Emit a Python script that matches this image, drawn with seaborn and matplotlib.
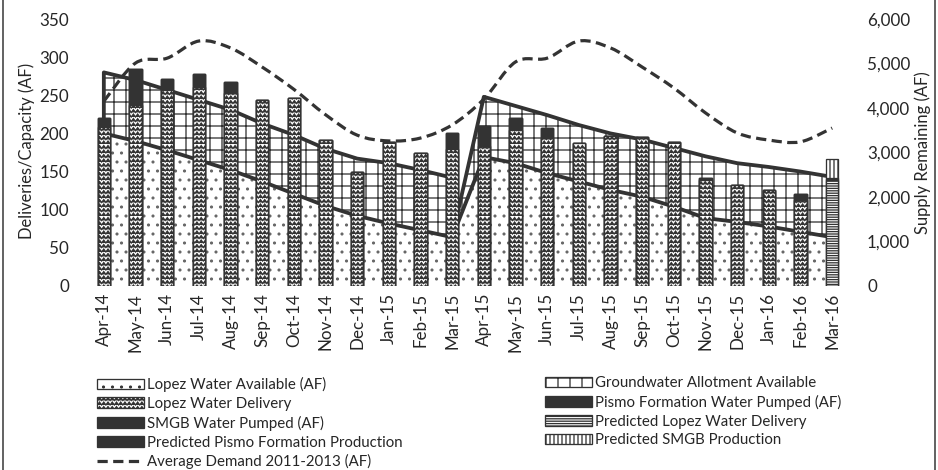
import numpy as np
import pandas as pd
import matplotlib
matplotlib.use("Agg")
import matplotlib.pyplot as plt
import matplotlib.hatch as mhatch
from matplotlib.path import Path
from matplotlib.patches import Patch, PathPatch
from matplotlib.lines import Line2D
from matplotlib.ticker import FuncFormatter
import seaborn as sns

# ---------------- data ----------------
months = ["Apr-14", "May-14", "Jun-14", "Jul-14", "Aug-14", "Sep-14", "Oct-14", "Nov-14",
          "Dec-14", "Jan-15", "Feb-15", "Mar-15", "Apr-15", "May-15", "Jun-15", "Jul-15",
          "Aug-15", "Sep-15", "Oct-15", "Nov-15", "Dec-15", "Jan-16", "Feb-16", "Mar-16"]

lopez_available = [200, 190, 178, 165, 152, 137, 121, 105, 92, 82, 73, 64,
                   169, 161, 148, 137, 126, 117, 104, 89, 84, 78, 71, 64]
groundwater_available = [80, 80, 79, 79, 79, 76, 77, 75, 75, 79, 79, 78,
                         79, 75, 76, 74, 74, 75, 77, 81, 77, 78, 79, 79]

lopez_delivery = [208, 237, 257, 261, 253, 244, 246, 191, 150, 189, 174, 180,
                  183, 204, 194, 187, 197, 195, 189, 139, 132, 126, 113, 0]
pismo_pumped = [0] * 24
smgb_pumped = [12, 47, 14, 17, 14, 0, 0, 0, 0, 0, 0, 21,
               27, 16, 13, 0, 0, 0, 0, 2, 0, 0, 7, 0]
pred_lopez = [0] * 23 + [139]
pred_pismo = [0] * 23 + [2]
pred_smgb = [0] * 23 + [25]

avg_demand = [4150, 5010, 5120, 5505, 5350, 4920, 4420, 3850, 3390, 3260, 3325, 3620,
              4200, 5035, 5120, 5505, 5350, 4920, 4450, 3890, 3440, 3280, 3240, 3550]

DARK = "#333333"
TXT = "#262626"


# ---------------- custom hatches (zigzag + small dots) ----------------
class ZigZag(mhatch.HatchPatternBase):
    def __init__(self, hatch, density):
        self.num_rows = hatch.count("O") * 8
        self.teeth = 17
        self.num_vertices = self.num_rows * (2 * self.teeth + 1)

    def set_vertices_and_codes(self, vertices, codes):
        n = 2 * self.teeth + 1
        xs = np.linspace(0, 1, n)
        amp = 0.65 / self.num_rows
        k = 0
        for r in range(self.num_rows):
            ys = r / self.num_rows + np.where(np.arange(n) % 2 == 1, amp, 0.0)
            vertices[k:k + n, 0] = xs
            vertices[k:k + n, 1] = ys
            codes[k] = Path.MOVETO
            codes[k + 1:k + n] = Path.LINETO
            k += n


class Dots(mhatch.Circles):
    size = 0.1
    filled = True

    def __init__(self, hatch, density):
        self.num_rows = hatch.count("*") * 8
        super().__init__(hatch, density)


swap = {mhatch.LargeCircles: ZigZag, mhatch.Stars: Dots}
mhatch._hatch_types = [swap.get(t, t) for t in mhatch._hatch_types]

sns.set_theme(style="white")
plt.rcParams["font.family"] = ["Lato", "DejaVu Sans"]
plt.rcParams["hatch.linewidth"] = 1.3

fig = plt.figure(figsize=(938 / 72, 470 / 72), dpi=72)
ax = fig.add_axes([88 / 938, 1 - 286 / 470, 760 / 938, 267 / 470])

x = np.arange(len(months))
lopez = np.array(lopez_available, dtype=float)
total = lopez + np.array(groundwater_available)

# ---------------- areas ----------------
ax.fill_between(x, 0, lopez, facecolor="white", edgecolor="#666666", hatch="*",
                linewidth=0, zorder=1)
y1 = slice(0, 12)
ax.fill_between(x[y1], lopez[y1], total[y1], facecolor="white", edgecolor=DARK,
                hatch="+", linewidth=0, zorder=1)
x2 = x[11:]
top2 = np.concatenate([[lopez[11]], total[12:]])
ax.fill_between(x2, lopez[11:], top2, facecolor="white", edgecolor=DARK,
                hatch="+", linewidth=0, zorder=1)

ax.plot(x, lopez, color=DARK, lw=3.8, zorder=2, solid_joinstyle="miter")
ax.plot(np.concatenate([[x[0]], x[y1]]), np.concatenate([[lopez[0]], total[y1]]),
        color=DARK, lw=3.8, zorder=2)
ax.plot(x2, top2, color=DARK, lw=3.8, zorder=2)

# ---------------- stacked bars ----------------
layers = [
    ("Lopez Water Delivery", lopez_delivery, "OO", "white"),
    ("Pismo Formation Water Pumped (AF)", pismo_pumped, None, DARK),
    ("SMGB Water Pumped (AF)", smgb_pumped, None, DARK),
    ("Predicted Lopez Water Delivery", pred_lopez, "-----", "white"),
    ("Predicted Pismo Formation Production", pred_pismo, None, DARK),
    ("Predicted SMGB Production", pred_smgb, "|||", "white"),
]
cum = np.cumsum(np.array([l[1] for l in layers], dtype=float), axis=0)
for i in reversed(range(len(layers))):
    name, vals, hatch, face = layers[i]
    sns.barplot(x=months, y=cum[i], order=months, color=face, saturation=1,
                width=0.38, errorbar=None, edgecolor=DARK, linewidth=1.3,
                hatch=hatch, zorder=3, ax=ax)

ax.set_xlim(-0.5, len(months) - 0.5)
ax.set_ylim(0, 350)
ax.set_yticks(range(0, 351, 50))
ax.set_xlabel("")
ax.set_ylabel("Deliveries/Capacity (AF)", fontsize=16.5, color=TXT)
ax.yaxis.set_label_coords(-0.07, 0.506)
ax.tick_params(axis="y", length=0, pad=19, labelsize=17, labelcolor=TXT)
ax.tick_params(axis="x", length=0, pad=7, labelsize=17, labelcolor=TXT, rotation=90)
for s in ax.spines.values():
    s.set_visible(False)

# ---------------- average demand (secondary axis, smoothed) ----------------
ax2 = ax.twinx()
ax2.set_ylim(0, 6000)
ax2.set_yticks(range(0, 6001, 1000))
ax2.yaxis.set_major_formatter(FuncFormatter(lambda v, p: f"{int(v):,}"))
ax2.tick_params(axis="y", length=0, pad=19, labelsize=17, labelcolor=TXT)
ax2.set_ylabel("Supply Remaining (AF)", fontsize=16.5, color=TXT)
ax2.yaxis.set_label_coords(1.087, 0.50)
for s in ax2.spines.values():
    s.set_visible(False)
ax2.grid(False)

pts = np.column_stack([x, avg_demand]).astype(float)
ext = np.vstack([pts[0], pts, pts[-1]])
verts = [pts[0]]
codes = [Path.MOVETO]
for k in range(1, len(ext) - 2):
    p0, p1, p2, p3 = ext[k - 1], ext[k], ext[k + 1], ext[k + 2]
    verts += [p1 + (p2 - p0) / 6, p2 - (p3 - p1) / 6, p2]
    codes += [Path.CURVE4] * 3
ax2.add_patch(PathPatch(Path(verts, codes), fill=False, edgecolor=DARK, lw=3.2,
                        linestyle=(0, (3.2, 1.7)), capstyle="butt", zorder=4))

# ---------------- legend ----------------
def bar_handle(hatch, face):
    return Patch(facecolor=face, edgecolor=DARK, hatch=hatch, linewidth=1.3)

h_lwa = bar_handle("*", "white")
h_gw = bar_handle("+", "white")
hd = {name: bar_handle(h, f) for name, _, h, f in layers}
h_dem = Line2D([0], [0], color=DARK, lw=3.2, linestyle=(0, (3.2, 1.7)))

common = dict(loc="upper left", frameon=False, fontsize=15, borderpad=0,
              borderaxespad=0, handlelength=3.1, handleheight=0.7,
              handletextpad=0.25, labelspacing=0.32, labelcolor=TXT)
fig.legend([h_lwa, hd["Lopez Water Delivery"], hd["SMGB Water Pumped (AF)"],
            hd["Predicted Pismo Formation Production"], h_dem],
           ["Lopez Water Available (AF)", "Lopez Water Delivery", "SMGB Water Pumped (AF)",
            "Predicted Pismo Formation Production", "Average Demand 2011-2013 (AF)"],
           bbox_to_anchor=(97 / 938, 1 - 377 / 470), **common)
fig.legend([h_gw, hd["Pismo Formation Water Pumped (AF)"],
            hd["Predicted Lopez Water Delivery"], hd["Predicted SMGB Production"]],
           ["Groundwater Allotment Available", "Pismo Formation Water Pumped (AF)",
            "Predicted Lopez Water Delivery", "Predicted SMGB Production"],
           bbox_to_anchor=(545 / 938, 1 - 376 / 470), **common)

# frame edges of the chart area
fig.add_artist(Line2D([2.5 / 938, 2.5 / 938], [0, 1], color=DARK, lw=1.5,
                      transform=fig.transFigure))
fig.add_artist(Line2D([935 / 938, 935 / 938], [0, 1], color=DARK, lw=1.5,
                      transform=fig.transFigure))

fig.savefig("out.png", dpi=72, facecolor="white")
